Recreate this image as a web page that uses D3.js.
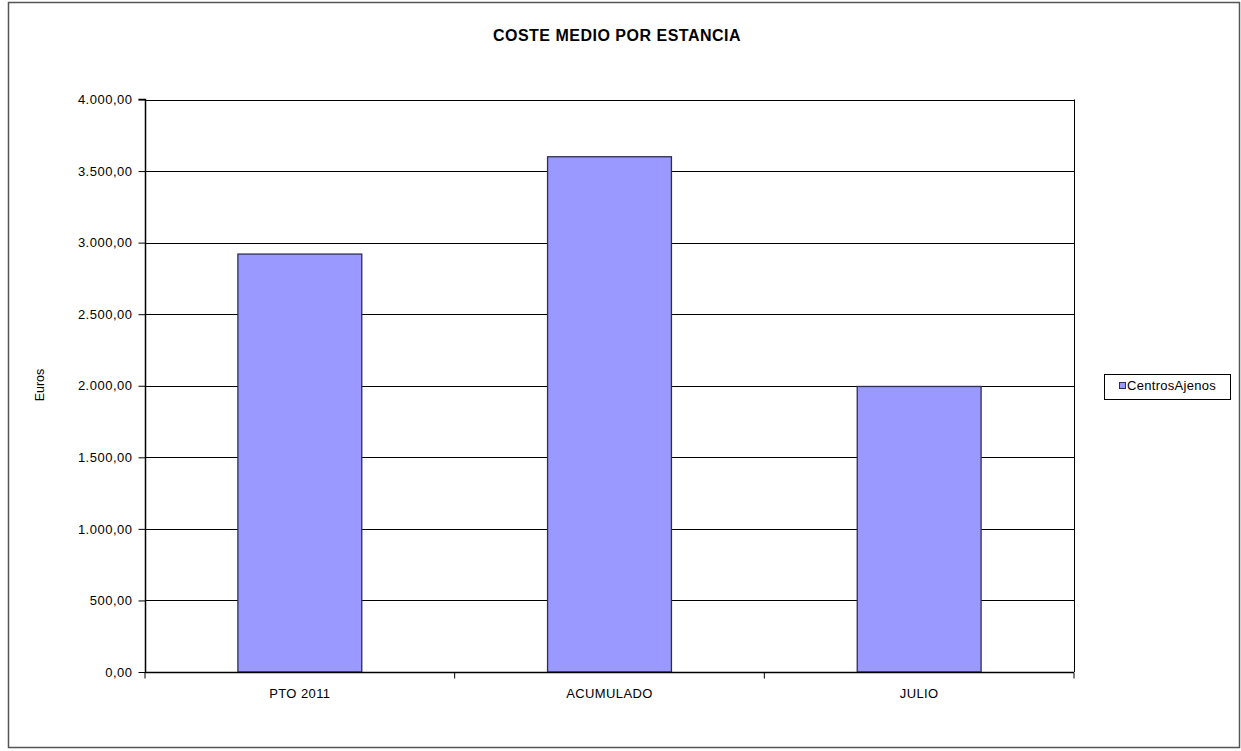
<!DOCTYPE html>
<html>
<head>
<meta charset="utf-8">
<script src="https://cdn.jsdelivr.net/npm/d3@7"></script>
<style>
body { margin: 0; background: #fff; }
svg { display: block; font-family: "Liberation Sans", Arial, sans-serif; }
</style>
</head>
<body>
<svg id="chart" width="1241" height="751"></svg>
<script>
const categories = ["PTO 2011", "ACUMULADO", "JULIO"];
const values = [2920, 3600, 1995];
const seriesName = "CentrosAjenos";
const yTicks = [0, 500, 1000, 1500, 2000, 2500, 3000, 3500, 4000];
const title = "COSTE MEDIO POR ESTANCIA";
const yTitle = "Euros";

const svg = d3.select("#chart");
const fmt = v => d3.formatLocale({decimal: ",", thousands: ".", grouping: [3], currency: ["", "€"]}).format(",.2f")(v);

// outer border
svg.append("rect").attr("x", 8.5).attr("y", 2.5).attr("width", 1231).attr("height", 745)
  .attr("fill", "#fff").attr("stroke", "#555").attr("stroke-width", 1.5);

const L = 145, R = 1074, T = 99.5, B = 672;
const x = d3.scaleBand().domain(categories).range([L, R]).paddingInner(0.6).paddingOuter(0.3);
const y = d3.scaleLinear().domain([0, 4000]).range([B, T]);

// gridlines
svg.append("g").selectAll("line").data(yTicks.filter(d => d > 0)).join("line")
  .attr("x1", L).attr("x2", R)
  .attr("y1", d => Math.round(y(d)) + 0.5).attr("y2", d => Math.round(y(d)) + 0.5)
  .attr("stroke", "#000").attr("stroke-width", 1);

// right plot border
svg.append("line").attr("x1", R + 0.5).attr("x2", R + 0.5).attr("y1", T).attr("y2", B).attr("stroke", "#000");

// bars
svg.append("g").selectAll("rect").data(categories).join("rect")
  .attr("x", d => x(d)).attr("width", x.bandwidth())
  .attr("y", (d, i) => y(values[i])).attr("height", (d, i) => B - y(values[i]))
  .attr("fill", "#9999ff").attr("stroke", "#2e2e55").attr("stroke-width", 1.3);

// y axis
const yAxis = d3.axisLeft(y).tickValues(yTicks).tickFormat(fmt).tickSize(7).tickPadding(6);
const gy = svg.append("g").attr("transform", `translate(${L + 0.5},0)`).call(yAxis);
gy.select(".domain").attr("stroke", "#000").attr("stroke-width", 1.5).attr("d", `M-7,${T}H0V${B}`);
gy.selectAll("text").attr("font-size", 13).attr("letter-spacing", "0.5px").attr("fill", "#000")
  .attr("font-family", "Liberation Sans, Arial, sans-serif");
gy.selectAll(".tick line").attr("stroke", "#000");

// x axis with category boundary ticks
const gx = svg.append("g").attr("transform", `translate(0,${B + 0.5})`);
gx.append("line").attr("x1", L).attr("x2", R).attr("y1", 0).attr("y2", 0).attr("stroke", "#000").attr("stroke-width", 1.5);
const step = (R - L) / categories.length;
gx.selectAll("line.tk").data(d3.range(categories.length + 1)).join("line").attr("class", "tk")
  .attr("x1", i => L + i * step).attr("x2", i => L + i * step).attr("y1", 0).attr("y2", 6).attr("stroke", "#000");
gx.selectAll("text").data(categories).join("text")
  .attr("x", d => x(d) + x.bandwidth() / 2).attr("y", 25.5)
  .attr("text-anchor", "middle").attr("font-size", 13).attr("letter-spacing", "0.4px").attr("fill", "#000").text(d => d);

// title
svg.append("text").attr("x", 617).attr("y", 41).attr("text-anchor", "middle")
  .attr("font-size", 16).attr("font-weight", "bold").attr("letter-spacing", "0.5px").text(title);

// y title
svg.append("text").attr("transform", `translate(44,385) rotate(-90)`).attr("text-anchor", "middle")
  .attr("font-size", 12.5).text(yTitle);

// legend
const lg = svg.append("g");
lg.append("rect").attr("x", 1104.5).attr("y", 374.5).attr("width", 126).attr("height", 25)
  .attr("fill", "#fff").attr("stroke", "#000");
lg.append("rect").attr("x", 1119.5).attr("y", 382.5).attr("width", 6).attr("height", 6)
  .attr("fill", "#9999ff").attr("stroke", "#2e2e55");
lg.append("text").attr("x", 1127).attr("y", 390).attr("font-size", 13).attr("letter-spacing", "0.3px").text(seriesName);
</script>
</body>
</html>
